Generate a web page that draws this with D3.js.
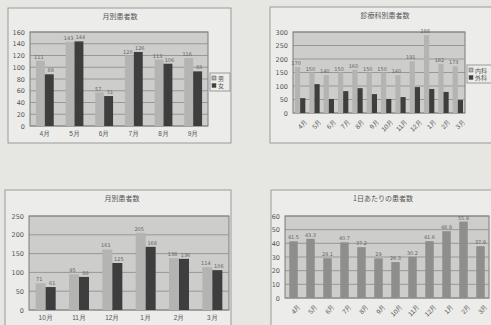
<!DOCTYPE html>
<html>
<head>
<meta charset="utf-8">
<script src="https://cdn.jsdelivr.net/npm/d3@7"></script>
<style>
  body { margin: 0; background: #e6e6e3; }
  svg { display: block; font-family: "Noto Sans CJK JP", sans-serif; }
</style>
</head>
<body>
<div id="plot-canvas"></div>
<script>
// chart 1: 月別患者数 (4月-9月)
const c1Months = ["4月", "5月", "6月", "7月", "8月", "9月"];
const c1Light = [111, 143, 57, 120, 113, 116];
const c1Dark = [88, 144, 51, 126, 106, 93];
const c1Ticks = [0, 20, 40, 60, 80, 100, 120, 140, 160];
const c1Legend = ["男", "女"];

// chart 2: 診療科別患者数 (12ヶ月)
const c2Months = ["4月", "5月", "6月", "7月", "8月", "9月", "10月", "11月", "12月", "1月", "2月", "3月"];
const c2Light = [170, 150, 140, 150, 160, 150, 150, 140, 191, 288, 182, 173];
const c2Dark = [55, 107, 52, 81, 92, 70, 52, 59, 96, 89, 78, 48];
const c2Ticks = [0, 50, 100, 150, 200, 250, 300];
const c2Legend = ["内科", "外科"];

// chart 3: 月別患者数 (10月-3月)
const c3Months = ["10月", "11月", "12月", "1月", "2月", "3月"];
const c3Light = [71, 95, 161, 205, 138, 114];
const c3Dark = [61, 88, 125, 168, 136, 106];
const c3Ticks = [0, 50, 100, 150, 200, 250];

// chart 4: 1日あたりの患者数
const c4Months = ["4月", "5月", "6月", "7月", "8月", "9月", "10月", "11月", "12月", "1月", "2月", "3月"];
const c4Values = [41.5, 43.3, 29.1, 40.7, 37.2, 29.0, 26.3, 30.2, 41.6, 48.9, 55.9, 37.9];
const c4Ticks = [0, 10, 20, 30, 40, 50, 60];

const lightFill = "#b4b4b2",
    darkFill = "#3e3e3e",
    midFill = "#8e8e8c";

var svg = d3.select("#plot-canvas").append("svg")
    .attr("width", 491)
    .attr("height", 325);

const drawChart = function (cfg) {
    let g = svg.append("g");

    // outer box
    g.append("rect")
        .attr("x", cfg.box[0]).attr("y", cfg.box[1])
        .attr("width", cfg.box[2]).attr("height", cfg.box[3])
        .attr("fill", "#ececea")
        .attr("stroke", "#9a9a98")
        .attr("stroke-width", 1);

    g.append("text")
        .attr("x", cfg.titleX).attr("y", cfg.box[1] + 11)
        .attr("text-anchor", "middle")
        .attr("font-size", 7)
        .attr("fill", "#555")
        .text(cfg.title);

    let x = d3.scaleBand().domain(cfg.cats).range([cfg.plot[0], cfg.plot[1]]).paddingInner(0).paddingOuter(0);
    let y = d3.scaleLinear().domain([0, cfg.ticks[cfg.ticks.length - 1]]).range([cfg.plot[3], cfg.plot[2]]);

    // plot area
    g.append("rect")
        .attr("x", cfg.plot[0]).attr("y", cfg.plot[2])
        .attr("width", cfg.plot[1] - cfg.plot[0]).attr("height", cfg.plot[3] - cfg.plot[2])
        .attr("fill", "#cdcdcb")
        .attr("stroke", "#7a7a78");

    // grid
    g.selectAll(".grid")
        .data(cfg.ticks)
        .enter().append("line")
        .attr("x1", cfg.plot[0]).attr("x2", cfg.plot[1])
        .attr("y1", d => y(d)).attr("y2", d => y(d))
        .attr("stroke", "#8a8a88")
        .attr("stroke-width", 0.8);

    // y axis labels
    let yAxis = d3.axisLeft(y).tickValues(cfg.ticks).tickSize(0).tickPadding(5);
    let ya = g.append("g")
        .attr("transform", "translate(" + cfg.plot[0] + ",0)")
        .call(yAxis);
    ya.select(".domain").remove();
    ya.selectAll("text").attr("font-size", 6.5).attr("fill", "#555").style("font-family", "DejaVu Sans");

    // x axis labels
    let xAxis = d3.axisBottom(x).tickSize(0).tickPadding(5);
    let xa = g.append("g")
        .attr("transform", "translate(0," + cfg.plot[3] + ")")
        .call(xAxis);
    xa.select(".domain").remove();
    xa.selectAll("text").attr("font-size", 6.5).attr("fill", "#555");
    if (cfg.rotate) {
        xa.selectAll("text")
            .attr("text-anchor", "end")
            .attr("dy", "0.3em")
            .attr("transform", "translate(3,4) rotate(-45)");
    }

    let bw = x.bandwidth();
    let series = cfg.series;
    let barW = bw * cfg.barFrac;
    let start = (bw - barW * series.length) / 2;

    series.forEach(function (s, si) {
        g.selectAll(".bar" + si)
            .data(s.values)
            .enter().append("rect")
            .attr("x", (d, i) => x(cfg.cats[i]) + start + si * barW)
            .attr("y", d => y(d))
            .attr("width", barW)
            .attr("height", d => y(0) - y(d))
            .attr("fill", s.fill);

        if (s.labels) {
            // nudge paired labels apart so they do not run into each other
            let nudge = series.length > 1 ? (si === 0 ? -1.5 : 1.5) : 0;
            g.selectAll(".lab" + si)
                .data(s.values)
                .enter().append("text")
                .attr("x", (d, i) => x(cfg.cats[i]) + start + si * barW + barW / 2 + nudge)
                .attr("y", d => y(d) - 2)
                .attr("text-anchor", "middle")
                .attr("font-size", 5)
                .attr("fill", "#666")
                .style("font-family", "DejaVu Sans")
                .text(d => d);
        }
    });

    // legend
    if (cfg.legend) {
        let lx = cfg.legendPos[0], ly = cfg.legendPos[1];
        g.append("rect")
            .attr("x", lx).attr("y", ly)
            .attr("width", cfg.legendPos[2]).attr("height", 18)
            .attr("fill", "#ececea")
            .attr("stroke", "#9a9a98");
        cfg.legend.forEach(function (name, i) {
            g.append("rect")
                .attr("x", lx + 2).attr("y", ly + 3 + i * 7.5)
                .attr("width", 4).attr("height", 4)
                .attr("fill", series[i].fill)
                .attr("stroke", "#555").attr("stroke-width", 0.5);
            g.append("text")
                .attr("x", lx + 8).attr("y", ly + 7.5 + i * 7.5)
                .attr("font-size", 6)
                .attr("fill", "#555")
                .text(name);
        });
    }
};

drawChart({
    box: [8, 8, 223, 135], titleX: 120, title: "月別患者数",
    plot: [30, 208, 32, 126], cats: c1Months, ticks: c1Ticks, barFrac: 0.3,
    series: [{values: c1Light, fill: lightFill, labels: true}, {values: c1Dark, fill: darkFill, labels: true}],
    legend: c1Legend, legendPos: [210, 73, 20]
});

drawChart({
    box: [270, 7, 240, 136], titleX: 385, title: "診療科別患者数",
    plot: [293, 465, 32, 113], cats: c2Months, ticks: c2Ticks, barFrac: 0.36, rotate: true,
    series: [{values: c2Light, fill: lightFill, labels: true}, {values: c2Dark, fill: darkFill}],
    legend: c2Legend, legendPos: [467, 65, 30]
});

drawChart({
    box: [5, 190, 226, 140], titleX: 122, title: "月別患者数",
    plot: [29, 229, 216, 310], cats: c3Months, ticks: c3Ticks, barFrac: 0.3,
    series: [{values: c3Light, fill: lightFill, labels: true}, {values: c3Dark, fill: darkFill, labels: true}]
});

drawChart({
    box: [271, 190, 240, 140], titleX: 383, title: "1日あたりの患者数",
    plot: [285, 489, 216, 298], cats: c4Months, ticks: c4Ticks, barFrac: 0.5, rotate: true,
    series: [{values: c4Values, fill: midFill, labels: true}]
});
</script>
</body>
</html>
